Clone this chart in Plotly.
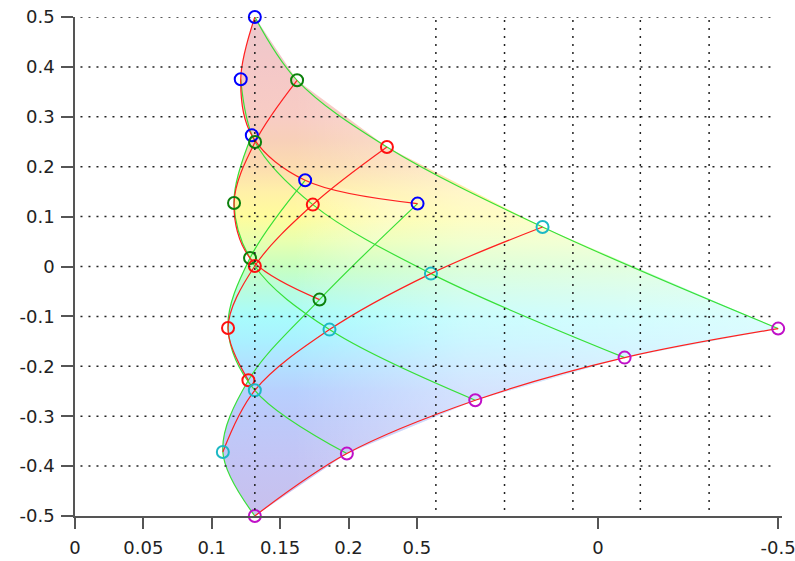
import plotly.graph_objects as go

# ---- grid of points: each row has one marker colour, each column joins the rows ----
BLUE_X = [0.1315, 0.1212, 0.1293, 0.1683, 0.2505]
BLUE_Y = [0.5000, 0.3752, 0.2629, 0.1727, 0.1261]
GREEN_X = [0.1624, 0.1317, 0.1163, 0.1280, 0.1788]
GREEN_Y = [0.3731, 0.2495, 0.1273, 0.0170, -0.0663]
RED_X = [0.2281, 0.1739, 0.1315, 0.1119, 0.1268]
RED_Y = [0.2395, 0.1240, 0.0010, -0.1232, -0.2281]
CYAN_X = [0.3419, 0.2603, 0.1861, 0.1315, 0.1081]
CYAN_Y = [0.0792, -0.0142, -0.1265, -0.2481, -0.3717]
MAGENTA_X = [0.5142, 0.4019, 0.2927, 0.1988, 0.1315]
MAGENTA_Y = [-0.1244, -0.1826, -0.2681, -0.3749, -0.5000]

# ---- axes ----
X_TICK_VALS = [0.0, 0.05, 0.10, 0.15, 0.20, 0.25, 0.3824, 0.5141]
X_TICK_TEXT = ["0", "0.05", "0.1", "0.15", "0.2", "0.5", "0", "-0.5"]
Y_TICK_VALS = [0.5, 0.4, 0.3, 0.2, 0.1, 0.0, -0.1, -0.2, -0.3, -0.4, -0.5]
Y_TICK_TEXT = ["0.5", "0.4", "0.3", "0.2", "0.1", "0", "-0.1", "-0.2", "-0.3", "-0.4", "-0.5"]
GRID_X = [0.1315, 0.2639, 0.3141, 0.3641, 0.4134, 0.4637]
GRID_Y = [0.5, 0.4, 0.3, 0.2, 0.1, 0.0, -0.1, -0.2, -0.3, -0.4]

# ---- styles ----
ROW_MARKER_COLORS = ["#0000ff", "#0c800c", "#ff1010", "#1cb8c4", "#c010c8"]
ROW_LINE_COLOR = "#ff2020"
COL_LINE_COLOR = "#38e038"
FILL_SCALE = [
    [0.00, "#c8c0ec"], [0.10, "#c4c4f4"], [0.20, "#bccafa"], [0.25, "#b8d0fe"],
    [0.30, "#b2e0ff"], [0.35, "#aaf0ff"], [0.40, "#a8fcfc"], [0.45, "#b8fce0"],
    [0.50, "#c8ffc0"], [0.55, "#e8ffb0"], [0.60, "#fffc9c"], [0.65, "#fff0a8"],
    [0.70, "#fcdcb0"], [0.75, "#f8d0b8"], [0.80, "#f8ccc4"], [0.90, "#f4c8c8"],
    [1.00, "#ecc8cc"],
]
WHITE_SCALE = [[0.0, "rgba(255,255,255,0)"], [0.35, "rgba(255,255,255,0.4)"],
               [1.0, "rgba(255,255,255,0.6)"]]

rows_x = [BLUE_X, GREEN_X, RED_X, CYAN_X, MAGENTA_X]
rows_y = [BLUE_Y, GREEN_Y, RED_Y, CYAN_Y, MAGENTA_Y]
n = len(rows_x)
cols_x = [[r[j] for r in rows_x] for j in range(n)]
cols_y = [[r[j] for r in rows_y] for j in range(n)]

fig = go.Figure()


def band(xa, ya, xb, yb, grad):
    fig.add_trace(go.Scatter(x=xa, y=ya, mode="lines",
                             line=dict(width=0, shape="spline"),
                             hoverinfo="skip", showlegend=False))
    fig.add_trace(go.Scatter(x=xb, y=yb, mode="lines",
                             line=dict(width=0, shape="spline"),
                             fill="tonexty", fillgradient=grad,
                             hoverinfo="skip", showlegend=False))


vgrad = dict(type="vertical", colorscale=FILL_SCALE, start=-0.5, stop=0.5)
hgrad = dict(type="horizontal", colorscale=WHITE_SCALE, start=0.16, stop=0.52)

for i in range(n - 1):
    band(rows_x[i], rows_y[i], rows_x[i + 1], rows_y[i + 1], vgrad)
for j in range(n - 1):
    band(cols_x[j], cols_y[j], cols_x[j + 1], cols_y[j + 1], vgrad)
for j in range(n - 1):
    band(cols_x[j], cols_y[j], cols_x[j + 1], cols_y[j + 1], hgrad)

# column curves (green) and row curves (red)
for j in range(n):
    fig.add_trace(go.Scatter(x=cols_x[j], y=cols_y[j], mode="lines",
                             line=dict(color=COL_LINE_COLOR, width=1.2, shape="spline"),
                             hoverinfo="skip", showlegend=False, cliponaxis=False))
for i in range(n):
    fig.add_trace(go.Scatter(x=rows_x[i], y=rows_y[i], mode="lines",
                             line=dict(color=ROW_LINE_COLOR, width=1.2, shape="spline"),
                             hoverinfo="skip", showlegend=False, cliponaxis=False))
for i in range(n):
    fig.add_trace(go.Scatter(x=rows_x[i], y=rows_y[i], mode="markers",
                             marker=dict(symbol="circle-open", size=12,
                                         color=ROW_MARKER_COLORS[i],
                                         line=dict(width=2, color=ROW_MARKER_COLORS[i])),
                             hoverinfo="skip", showlegend=False, cliponaxis=False))

# dotted grid drawn above the colour fill
shapes = []
for gy in GRID_Y:
    shapes.append(dict(type="line", xref="x", yref="y", x0=0.004, x1=0.512, y0=gy, y1=gy,
                       line=dict(color="#222222", width=1.5, dash="2px,6px"), layer="above"))
for gx in GRID_X:
    shapes.append(dict(type="line", xref="x", yref="y", x0=gx, x1=gx, y0=-0.488, y1=0.5,
                       line=dict(color="#222222", width=1.5, dash="2px,6px"), layer="above"))

font = dict(family="DejaVu Sans, Arial, sans-serif", size=18, color="#222222")
fig.update_layout(
    width=795, height=561,
    margin=dict(l=75, r=13, t=17, b=45),
    paper_bgcolor="white", plot_bgcolor="white",
    showlegend=False, shapes=shapes, font=font,
    xaxis=dict(range=[0, 0.517], showgrid=False, zeroline=False, automargin=False,
               showline=True, linecolor="#555555", linewidth=1.5,
               ticks="outside", ticklen=11, tickwidth=1.5, tickcolor="#555555",
               ticklabelstandoff=4, ticklabeloverflow="allow",
               tickvals=X_TICK_VALS, ticktext=X_TICK_TEXT, tickfont=font),
    yaxis=dict(range=[-0.5, 0.5], showgrid=False, zeroline=False, automargin=False,
               showline=True, linecolor="#555555", linewidth=1.5,
               ticks="outside", ticklen=12, tickwidth=1.5, tickcolor="#555555",
               ticklabelstandoff=3, ticklabeloverflow="allow",
               tickvals=Y_TICK_VALS, ticktext=Y_TICK_TEXT, tickfont=font),
)

# remove the default page margin so the 795x561 figure fills the window exactly
fig.write_html("out.html", config={"displayModeBar": False},
               post_script="document.body.style.margin='0';")
